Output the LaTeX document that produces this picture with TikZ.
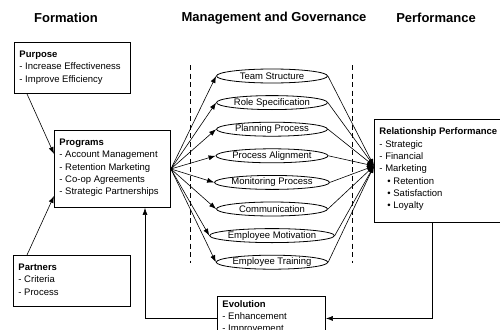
\documentclass[tikz,border=0pt]{standalone}
\usepackage{fontspec}
\setmainfont{Liberation Sans}
\usetikzlibrary{shapes.geometric,arrows.meta}
\begin{document}
\begin{tikzpicture}[x=1pt,y=-1pt]
	% Styles (MODIFIABLES)
	\tikzstyle{fleche}=[->,>={Latex[length=7pt,width=5pt]},line width=0.6pt]
	\tikzstyle{boite}=[draw,line width=0.9pt,anchor=north west,inner xsep=5pt,inner ysep=8.5pt,font=\fontsize{9.5}{12.3}\selectfont]
	\tikzstyle{bulle}=[draw,ellipse,line width=0.8pt,minimum width=111pt,minimum height=14pt,inner sep=0pt,font=\fontsize{9.5}{11}\selectfont]
	\tikzstyle{titre}=[font=\fontsize{13}{15}\selectfont\bfseries]
	\tikzstyle{pointille}=[dash pattern=on 5pt off 3.5pt,line width=0.6pt]
	% Dimensions (MODIFIABLES)
	\def\AbscisseBulles{272}
	\def\OrdonneeBulles{76}
	\def\EcartBulles{26.6}
	% Cadre : largeur, hauteur, contenu
	\def\Cadre#1#2#3{\parbox[t][#2][t]{#1}{#3}}
	\def\Puce{\hspace*{8pt}\textbullet\ }
	\clip (0,0) rectangle (500,329);
	% Titres
	\node[titre] (tForm) at (66,18) {Formation};
	\node[titre] (tGest) at (274,18) {Management and Governance};
	\node[titre] (tPerf) at (436,18) {Performance};
	% Cadres
	\node[boite] (purp) at (14,42) {\Cadre{106pt}{34pt}{\textbf{Purpose}\\- Increase Effectiveness\\- Improve Efficiency}};
	\node[boite] (prog) at (54,130) {\Cadre{106pt}{60pt}{\textbf{Programs}\\- Account Management\\- Retention Marketing\\- Co-op Agreements\\- Strategic Partnerships}};
	\node[boite] (part) at (13,255) {\Cadre{107pt}{34pt}{\textbf{Partners}\\- Criteria\\- Process}};
	\node[boite] (rp) at (374,119) {\Cadre{140pt}{86pt}{\textbf{Relationship Performance}\\- Strategic\\- Financial\\- Marketing\\\Puce Retention\\\Puce Satisfaction\\\Puce Loyalty}};
	\node[boite,inner ysep=4pt] (evol) at (217,296) {\Cadre{98pt}{36pt}{\textbf{Evolution}\\- Enhancement\\- Improvement}};
	% Limites (pointillés)
	\draw[pointille] (190,65) -- (190,263);
	\draw[pointille] (352,65) -- (352,263);
	% Bulles
	\foreach \nom/\texte [count=\i from 0] in {team/Team Structure,role/Role Specification,plan/Planning Process,align/Process Alignment,monit/Monitoring Process,comm/Communication,motiv/Employee Motivation,train/Employee Training}
		\node[bulle] (\nom) at (\AbscisseBulles,{\OrdonneeBulles+\i*\EcartBulles}) {\texte};
	\coordinate (cible) at ([yshift=5pt]rp.west);
	% Arcs
	\foreach \nom in {team,role,plan,align,monit,comm,motiv,train}{
		\draw[fleche] (prog.east) -- (\nom.west);
		\draw[fleche] (\nom.east) -- (cible);
	}
	\draw[fleche] ([xshift=13pt]purp.south west) -- ([yshift=15pt]prog.west);
	\draw[fleche] ([xshift=14pt]part.north west) -- ([yshift=-27pt]prog.west);
	\draw[fleche] ([xshift=58pt]rp.south west) |- (evol.east);
	\draw[fleche] (evol.west) -| ([xshift=91pt]prog.south west);
\end{tikzpicture}
\end{document}
